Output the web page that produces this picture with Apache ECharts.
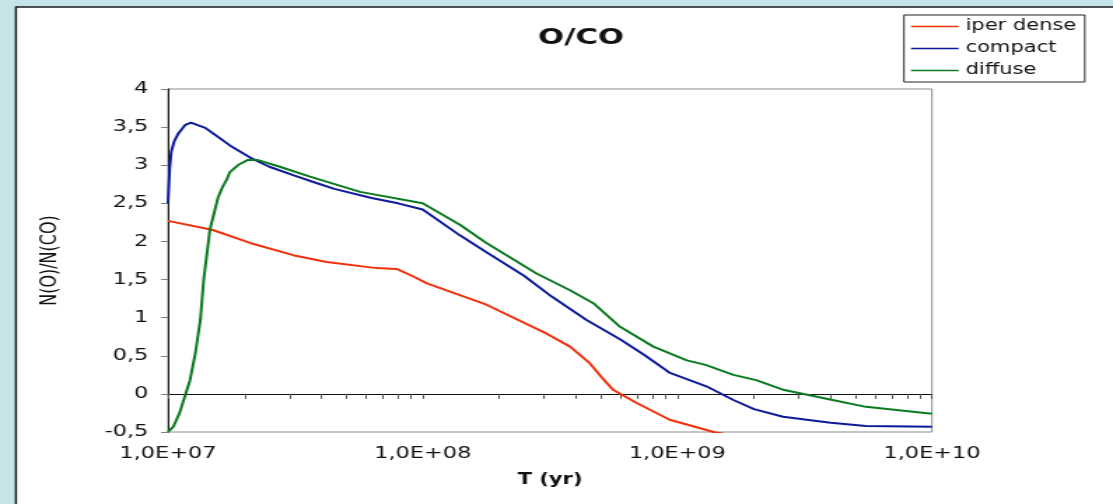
<!DOCTYPE html>
<html>
<head>
<meta charset="utf-8">
<title>O/CO</title>
<script src="https://cdn.jsdelivr.net/npm/echarts@6/dist/echarts.min.js"></script>
<style>
  html, body { margin: 0; padding: 0; background: #c5e4e8; overflow: hidden; }
  /* the original picture is stretched sideways, so the chart is drawn narrower and widened */
  #main { width: 795px; height: 504px; transform: scaleX(1.4); transform-origin: 0 0; }
</style>
</head>
<body>
<div id="main"></div>
<script>
// T (yr) and N(O)/N(CO)
var tDense = [1.0e7, 1.5e7, 2.1e7, 3.1e7, 4.2e7, 6.6e7, 7.9e7, 9.2e7, 1.04e8, 1.78e8, 3.07e8, 3.79e8, 4.54e8, 5.1e8, 5.61e8, 6.93e8, 9.33e8, 1.39e9, 2.0e9, 1.0e10];
var dense  = [2.27, 2.15, 1.98, 1.82, 1.73, 1.65, 1.64, 1.54, 1.45, 1.17, 0.79, 0.62, 0.40, 0.20, 0.05, -0.12, -0.34, -0.50, -0.60, -0.70];

var tCompact = [1.0e7, 1.015e7, 1.03e7, 1.06e7, 1.1e7, 1.17e7, 1.23e7, 1.3e7, 1.4e7, 1.5e7, 1.75e7, 2.1e7, 2.5e7, 3.1e7, 3.8e7, 4.5e7, 6.3e7, 8.0e7, 1.0e8, 1.4e8, 1.8e8, 2.5e8, 3.2e8, 4.4e8, 6.0e8, 7.5e8, 9.3e8, 1.3e9, 1.66e9, 2.0e9, 2.6e9, 4.0e9, 5.5e9, 1.0e10];
var compact  = [2.50, 2.95, 3.18, 3.32, 3.42, 3.53, 3.56, 3.53, 3.49, 3.42, 3.26, 3.10, 2.98, 2.87, 2.77, 2.69, 2.57, 2.50, 2.42, 2.08, 1.85, 1.55, 1.28, 0.97, 0.71, 0.50, 0.28, 0.10, -0.08, -0.20, -0.30, -0.38, -0.42, -0.43];

var tDiffuse = [1.0e7, 1.05e7, 1.11e7, 1.22e7, 1.28e7, 1.34e7, 1.38e7, 1.46e7, 1.57e7, 1.64e7, 1.70e7, 1.75e7, 1.9e7, 2.06e7, 2.24e7, 2.75e7, 3.61e7, 5.68e7, 1.0e8, 1.4e8, 1.78e8, 2.8e8, 3.79e8, 4.68e8, 5.96e8, 8.05e8, 1.09e9, 1.29e9, 1.66e9, 2.04e9, 2.63e9, 4.07e9, 5.5e9, 1.0e10];
var diffuse  = [-0.50, -0.43, -0.25, 0.18, 0.53, 0.97, 1.49, 2.15, 2.57, 2.72, 2.81, 2.91, 3.01, 3.07, 3.07, 2.98, 2.85, 2.65, 2.50, 2.22, 1.98, 1.58, 1.36, 1.19, 0.88, 0.62, 0.44, 0.38, 0.25, 0.18, 0.05, -0.08, -0.17, -0.26];

var decades = [1e7, 1e8, 1e9];
var xTicks = [];
decades.forEach(function (d) {
    for (var k = 1; k < 10; k++) xTicks.push(d * k);
});
xTicks.push(1e10);
var xLabels = [1e7, 1e8, 1e9, 1e10];

function pairs(xs, ys) {
    return xs.map(function (x, i) { return [x, ys[i]]; });
}

var font = 'DejaVu Sans';
var chart = echarts.init(document.getElementById('main'));

var option = {
    backgroundColor: '#c5e4e8',
    animation: false,
    graphic: [{
        type: 'rect',
        z: -10,
        shape: { x: 11.4, y: 7, width: 900, height: 600 },
        style: { fill: '#ffffff', stroke: '#1a1a1a', lineWidth: 1.5 }
    }],
    title: {
        text: 'O/CO',
        left: 410,
        top: 22,
        textAlign: 'center',
        textStyle: { fontFamily: font, fontSize: 22, fontWeight: 'bold', color: '#111' }
    },
    legend: {
        orient: 'vertical',
        left: 645.7,
        top: 15,
        padding: [4, 6, 4, 5],
        icon: 'rect',
        itemWidth: 34,
        itemHeight: 1.5,
        itemGap: 7,
        backgroundColor: '#fff',
        borderColor: '#222',
        borderWidth: 1,
        textStyle: { fontFamily: font, fontSize: 15, color: '#111', lineHeight: 15 },
        data: ['iper dense', 'compact', 'diffuse']
    },
    grid: {
        left: 120,
        right: 129.3,
        top: 89,
        bottom: 72,
        show: true,
        backgroundColor: '#fff',
        borderColor: '#8c8c8c',
        borderWidth: 1
    },
    xAxis: {
        type: 'log',
        logBase: 10,
        min: 1e7,
        max: 1e10,
        name: 'T (yr)',
        nameLocation: 'middle',
        nameGap: 41,
        nameTextStyle: { fontFamily: font, fontSize: 15, fontWeight: 'bold', color: '#111' },
        axisLine: { lineStyle: { color: '#111', width: 1 } },
        axisTick: { show: true, length: 5, customValues: xTicks, lineStyle: { color: '#555' } },
        axisLabel: {
            margin: 14,
            customValues: xLabels,
            fontFamily: font, fontSize: 16, color: '#111',
            formatter: function (v) {
                var e = Math.round(Math.log10(v));
                return '1,0E+' + (e < 10 ? '0' : '') + e;
            }
        },
        splitLine: { show: false },
        minorTick: { show: false }
    },
    yAxis: {
        type: 'value',
        min: -0.5,
        max: 4,
        interval: 0.5,
        name: 'N(O)/N(CO)',
        nameLocation: 'middle',
        nameGap: 76,
        nameTextStyle: { fontFamily: font, fontSize: 16, color: '#111' },
        axisLine: { show: true, lineStyle: { color: '#111', width: 1 } },
        axisTick: { show: true, length: 5, lineStyle: { color: '#808080' } },
        axisLabel: {
            margin: 14,
            fontFamily: font, fontSize: 16, color: '#111',
            formatter: function (v) { return String(v).replace('.', ','); }
        },
        splitLine: { show: false }
    },
    series: [{
        name: 'iper dense',
        type: 'line',
        symbol: 'none',
        clip: true,
        lineStyle: { color: '#f3300c', width: 2 },
        itemStyle: { color: '#f3300c' },
        data: pairs(tDense, dense)
    }, {
        name: 'compact',
        type: 'line',
        symbol: 'none',
        clip: true,
        lineStyle: { color: '#0c1a9a', width: 2 },
        itemStyle: { color: '#0c1a9a' },
        data: pairs(tCompact, compact)
    }, {
        name: 'diffuse',
        type: 'line',
        symbol: 'none',
        clip: true,
        lineStyle: { color: '#0a7a1e', width: 2 },
        itemStyle: { color: '#0a7a1e' },
        data: pairs(tDiffuse, diffuse)
    }]
};

chart.setOption(option);
</script>
</body>
</html>
